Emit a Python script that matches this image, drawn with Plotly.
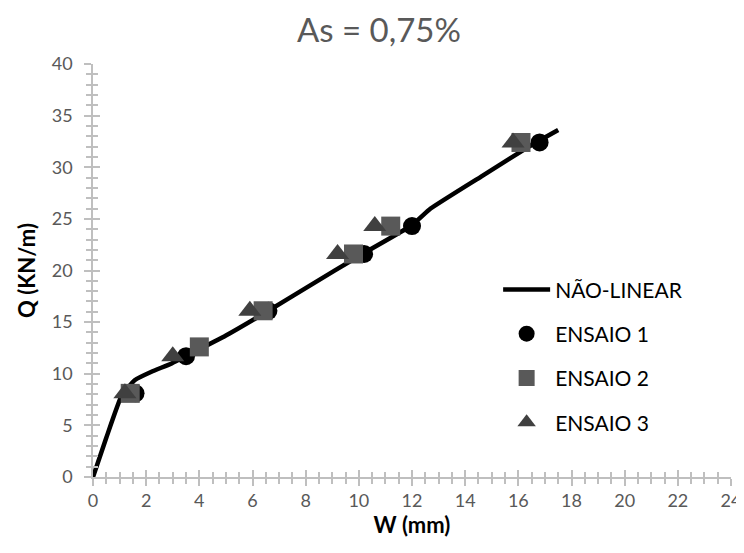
import plotly.graph_objects as go

# Data
line_w = [0, 0.5, 1.08, 1.58, 2.2, 2.96, 3.57, 5.0, 6.6, 8.0, 10.2, 12.0, 12.7, 14.6, 16.4, 17.5]
line_q = [0, 3.8, 7.9, 9.4, 10.2, 11.0, 11.8, 13.7, 16.1, 18.3, 21.7, 24.4, 26.0, 29.1, 32.0, 33.6]

e1_w = [1.6, 3.5, 6.6, 10.2, 12.0, 16.8]
e1_q = [8.1, 11.7, 16.1, 21.6, 24.3, 32.4]

e2_w = [1.4, 4.0, 6.4, 9.8, 11.2, 16.1]
e2_q = [8.1, 12.6, 16.1, 21.6, 24.3, 32.4]

e3_w = [1.2, 3.0, 5.9, 9.2, 10.6, 15.8]
e3_q = [8.1, 11.7, 16.1, 21.6, 24.3, 32.4]

title_text = "As = 0,75%"
x_title = "W (mm)"
y_title = "Q (KN/m)"

FONT = "Lato, 'Open Sans', sans-serif"
AX = "#bfbfbf"
TXT = "#595959"

fig = go.Figure()
fig.add_trace(go.Scatter(x=line_w, y=line_q, mode="lines", name="NÃO-LINEAR",
                         line=dict(color="black", width=4.5, shape="spline", smoothing=0.4),
                         legendgroup="a"))
fig.add_trace(go.Scatter(x=e1_w, y=e1_q, mode="markers", name="ENSAIO 1",
                         marker=dict(symbol="circle", size=18, color="black"),
                         legendgroup="b"))
fig.add_trace(go.Scatter(x=e2_w, y=e2_q, mode="markers", name="ENSAIO 2",
                         marker=dict(symbol="square", size=19, color="#595959"),
                         legendgroup="c"))
fig.add_trace(go.Scatter(x=e3_w, y=e3_q, mode="markers", name="ENSAIO 3",
                         marker=dict(symbol="triangle-up", size=20, color="#404040"),
                         legendgroup="d"))
# invisible trace to activate the overlay axes (inside halves of the crossing ticks)
fig.add_trace(go.Scatter(x=[None], y=[None], xaxis="x2", yaxis="y2", showlegend=False, hoverinfo="skip"))

common = dict(showgrid=False, zeroline=False, showline=True, linecolor=AX, linewidth=1.5,
              tickcolor=AX, tickwidth=1.5, automargin=False)

# the page body adds an 8px margin, so the figure is 8px smaller than the window
fig.update_layout(
    width=736, height=545,
    paper_bgcolor="white", plot_bgcolor="white",
    margin=dict(l=85, r=13, t=56, b=76),
    font=dict(family=FONT, color=TXT, size=18),
    title=dict(text=title_text, xref="container", x=0.504, xanchor="center",
               yref="container", y=0.98, yanchor="top",
               font=dict(size=33, color=TXT, family=FONT)),
    xaxis=dict(range=[0, 24], dtick=2, tick0=0, ticks="outside", ticklen=7,
               minor=dict(dtick=0.5, ticks="outside", ticklen=5, tickcolor=AX, tickwidth=1.5),
               tickfont=dict(size=18, color=TXT), ticklabelstandoff=0,
               title=dict(text="<b>" + x_title + "</b>", font=dict(size=22, color="black"), standoff=6),
               **common),
    yaxis=dict(range=[0, 40], dtick=5, tick0=0, ticks="outside", ticklen=7,
               minor=dict(dtick=1, ticks="outside", ticklen=5, tickcolor=AX, tickwidth=1.5),
               tickfont=dict(size=18, color=TXT), ticklabelstandoff=8,
               title=dict(text="<b>" + y_title + "</b>", font=dict(size=22, color="black"), standoff=10),
               **common),
    xaxis2=dict(range=[0, 24], dtick=2, tick0=0, ticks="inside", ticklen=7, overlaying="x",
                minor=dict(dtick=0.5, ticks="inside", ticklen=5, tickcolor=AX, tickwidth=1.5),
                showticklabels=False, anchor="y", side="bottom", **common),
    yaxis2=dict(range=[0, 40], dtick=5, tick0=0, ticks="inside", ticklen=7, overlaying="y",
                minor=dict(dtick=1, ticks="inside", ticklen=5, tickcolor=AX, tickwidth=1.5),
                showticklabels=False, anchor="x", side="left", **common),
    legend=dict(x=0.635, y=0.503, xanchor="left", yanchor="top",
                font=dict(size=21, color="black", family=FONT),
                bgcolor="rgba(0,0,0,0)", tracegroupgap=14, itemwidth=47),
    showlegend=True,
)

fig.write_html("out.html")
